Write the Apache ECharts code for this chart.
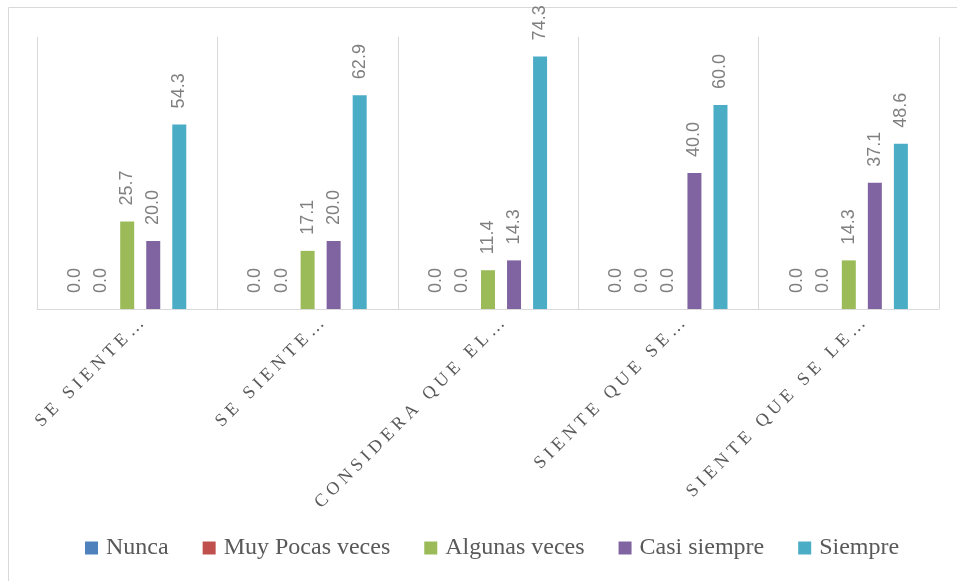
<!DOCTYPE html>
<html>
<head>
<meta charset="utf-8">
<script src="https://cdn.jsdelivr.net/npm/echarts@6/dist/echarts.min.js"></script>
<style>
  html, body { margin: 0; padding: 0; background: #fff; }
  #chart { width: 957px; height: 581px; }
</style>
</head>
<body>
<div id="chart"></div>
<script>
// categories and values
const categories = ['SE SIENTE…', 'SE SIENTE…', 'CONSIDERA QUE EL…', 'SIENTE QUE SE…', 'SIENTE QUE SE LE…']
const seriesNames = ['Nunca', 'Muy Pocas veces', 'Algunas veces', 'Casi siempre', 'Siempre']
const nunca = [0.0, 0.0, 0.0, 0.0, 0.0]
const muyPocas = [0.0, 0.0, 0.0, 0.0, 0.0]
const algunas = [25.7, 17.1, 11.4, 0.0, 14.3]
const casiSiempre = [20.0, 20.0, 14.3, 40.0, 37.1]
const siempre = [54.3, 62.9, 74.3, 60.0, 48.6]
const colors = ['#4f81bd', '#c0504d', '#9bbb59', '#8064a2', '#4bacc6']

const chart = echarts.init(document.getElementById('chart'))

// spread letters like the original label style
const spaced = s => s.split('').join('\u2005')

const makeSeries = (name, data) => ({
  name: name,
  type: 'bar',
  data: data,
  barWidth: 14,
  barGap: '86%',
  label: {
    show: true,
    position: 'top',
    rotate: 90,
    align: 'left',
    verticalAlign: 'middle',
    distance: 16,
    color: '#808080',
    fontFamily: 'Liberation Sans',
    fontSize: 18,
    formatter: p => p.value.toFixed(1)
  }
})

const option = {
  color: colors,
  animation: false,
  grid: { left: 37, right: 18, top: 37, bottom: 272 },
  legend: {
    left: 80,
    top: 531,
    itemWidth: 13,
    itemHeight: 13,
    itemGap: 34,
    icon: 'rect',
    textStyle: { fontFamily: 'Liberation Serif', fontSize: 24, color: '#595959', padding: [0, 0, 0, 3] }
  },
  xAxis: {
    type: 'category',
    data: categories,
    axisLine: { lineStyle: { color: '#d9d9d9', width: 1 } },
    axisTick: { show: false },
    splitLine: { show: true, interval: 0, lineStyle: { color: '#d9d9d9', width: 1 } },
    axisLabel: {
      interval: 0,
      rotate: 45,
      margin: 26,
      padding: [0, -20, 0, 0],
      color: '#595959',
      fontFamily: 'Liberation Serif',
      fontSize: 18,
      formatter: v => spaced(v)
    }
  },
  yAxis: {
    type: 'value',
    min: 0,
    max: 80,
    show: false,
    splitLine: { show: false }
  },
  graphic: [{
    type: 'rect',
    shape: { x: 8.5, y: 7.5, width: 1000, height: 1000 },
    style: { fill: 'none', stroke: '#d9d9d9', lineWidth: 1 },
    silent: true
  }],
  series: [
    makeSeries(seriesNames[0], nunca),
    makeSeries(seriesNames[1], muyPocas),
    makeSeries(seriesNames[2], algunas),
    makeSeries(seriesNames[3], casiSiempre),
    makeSeries(seriesNames[4], siempre)
  ]
}

chart.setOption(option)
window.addEventListener('resize', function () {
  chart.resize()
})
</script>
</body>
</html>
